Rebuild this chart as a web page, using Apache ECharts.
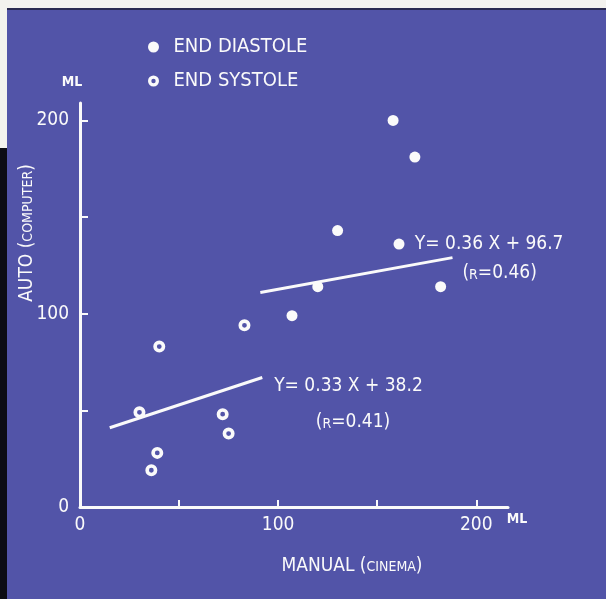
<!DOCTYPE html>
<html>
<head>
<meta charset="utf-8">
<script src="https://cdn.jsdelivr.net/npm/echarts@6/dist/echarts.min.js"></script>
<style>
html,body{margin:0;padding:0;background:#5254a8;}
#c{width:606px;height:599px;}
</style>
</head>
<body>
<div id="c"></div>
<script>
// ---- data ----
const diastoleX = [158, 169, 130, 161, 182, 120, 107];
const diastoleY = [200, 181, 143, 136, 114, 114, 99];
const systoleX = [40, 30, 72, 75, 39, 36, 83];
const systoleY = [83, 49, 48, 38, 28, 19, 94];
const diastoleFitX = [91, 188];
const diastoleFitY = [111, 129];
const systoleFitX = [15, 92];
const systoleFitY = [41, 67];
const xTicks = [0, 50, 100, 150, 200];
const yTicks = [0, 50, 100, 150, 200];
const xTickLabels = [0, 100, 200];
const yTickLabels = [0, 100, 200];
const seriesNames = ['END DIASTOLE', 'END SYSTOLE'];
const equations = [
  { x: 169, y: 136, text: 'Y= 0.36 X + 96.7' },
  { x: 193, y: 121, text: '{p|(}{s|R}{p|=0.46)}' },
  { x: 98, y: 62.5, text: 'Y= 0.33 X + 38.2' },
  { x: 119, y: 44, text: '{p|(}{s|R}{p|=0.41)}' }
];

const FONT = '"DejaVu Sans Condensed","Liberation Sans Narrow","DejaVu Sans",sans-serif';
const BG = '#5254a8';
const FG = '#fafafa';
const ringPath = 'path://M0,10 A10,10 0 1,1 20,10 A10,10 0 1,1 0,10 Z M6,10 A4,4 0 1,0 14,10 A4,4 0 1,0 6,10 Z';

const zip = (xs, ys) => xs.map((x, i) => [x, ys[i]]);

const chart = echarts.init(document.getElementById('c'));
chart.setOption({
  backgroundColor: BG,
  animation: false,
  textStyle: { fontFamily: FONT },
  grid: { left: 80, top: 103, width: 428, height: 404, containLabel: false },
  legend: {
    orient: 'vertical', left: 143, top: 32, itemWidth: 20, itemHeight: 11, itemGap: 14,
    data: seriesNames,
    textStyle: { color: FG, fontSize: 20, fontFamily: FONT, padding: [0, 0, 0, 5] },
    selectedMode: false
  },
  xAxis: {
    type: 'value', min: 0, max: 216,
    splitLine: { show: false },
    axisLine: { lineStyle: { color: FG, width: 3 } },
    axisTick: { inside: true, length: 7, lineStyle: { color: FG, width: 2 }, customValues: xTicks },
    axisLabel: { color: FG, fontSize: 19, margin: 9, customValues: xTickLabels, fontFamily: FONT }
  },
  yAxis: {
    type: 'value', min: 0, max: 209,
    splitLine: { show: false },
    axisLine: { lineStyle: { color: FG, width: 3 } },
    axisTick: { inside: true, length: 8, lineStyle: { color: FG, width: 2 }, customValues: yTicks },
    axisLabel: { color: FG, fontSize: 19, margin: 11, customValues: yTickLabels, fontFamily: FONT }
  },
  series: [
    {
      name: seriesNames[0], type: 'scatter', symbol: 'circle', symbolSize: 11,
      itemStyle: { color: FG, opacity: 1 },
      data: zip(diastoleX, diastoleY)
    },
    {
      name: seriesNames[1], type: 'scatter', symbol: ringPath, symbolSize: 12,
      itemStyle: { color: FG, opacity: 1 },
      data: zip(systoleX, systoleY)
    },
    {
      type: 'line', data: zip(diastoleFitX, diastoleFitY), showSymbol: false, symbol: 'none',
      lineStyle: { color: FG, width: 3 }
    },
    {
      type: 'line', data: zip(systoleFitX, systoleFitY), showSymbol: false, symbol: 'none',
      lineStyle: { color: FG, width: 3 }
    },
    {
      type: 'scatter', symbolSize: 0, silent: true,
      itemStyle: { opacity: 1 },
      data: equations.map(e => ({ value: [e.x, e.y], label: { formatter: e.text } })),
      label: {
        show: true, position: 'right', distance: 0, color: FG, fontSize: 19, fontFamily: FONT,
        rich: {
          p: { color: FG, fontSize: 19, fontFamily: FONT },
          s: { color: FG, fontSize: 14, fontFamily: FONT, padding: [4, 0, 0, 0] }
        }
      }
    }
  ],
  graphic: [
    { type: 'rect', shape: { x: 0, y: 0, width: 606, height: 8 }, style: { fill: '#f3f2ee' }, z: 100 },
    { type: 'rect', shape: { x: 0, y: 8, width: 606, height: 2 }, style: { fill: '#2a2a50' }, z: 100 },
    { type: 'rect', shape: { x: 0, y: 0, width: 7, height: 148 }, style: { fill: '#f3f2ee' }, z: 100 },
    { type: 'rect', shape: { x: 0, y: 148, width: 7, height: 451 }, style: { fill: '#0c0c14' }, z: 100 },
    {
      type: 'text', x: 72, y: 82,
      style: { text: 'ML', fill: FG, font: 'bold 14px ' + FONT, align: 'center', verticalAlign: 'middle' }
    },
    {
      type: 'text', x: 517, y: 519,
      style: { text: 'ML', fill: FG, font: 'bold 14px ' + FONT, align: 'center', verticalAlign: 'middle' }
    },
    {
      type: 'text', x: 352, y: 566,
      style: {
        text: '{b|MANUAL (}{s|CINEMA}{b|)}', align: 'center', verticalAlign: 'middle',
        rich: {
          b: { fill: FG, fontSize: 19, fontFamily: FONT },
          s: { fill: FG, fontSize: 14, fontFamily: FONT, padding: [3, 0, 0, 0] }
        }
      }
    },
    {
      type: 'text', x: 27, y: 233, rotation: Math.PI / 2,
      style: {
        text: '{b|AUTO (}{s|COMPUTER}{b|)}', align: 'center', verticalAlign: 'middle',
        rich: {
          b: { fill: FG, fontSize: 19, fontFamily: FONT },
          s: { fill: FG, fontSize: 14, fontFamily: FONT, padding: [3, 0, 0, 0] }
        }
      }
    }
  ]
});
</script>
</body>
</html>
